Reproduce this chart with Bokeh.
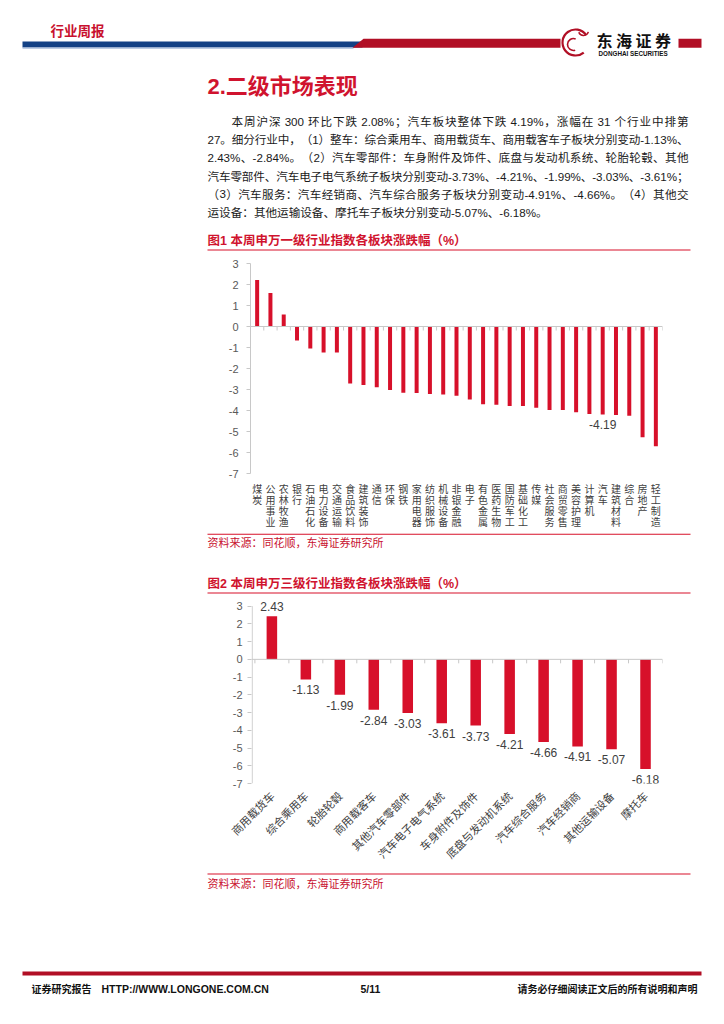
import math
from bokeh.plotting import figure
from bokeh.layouts import column
from bokeh.models import Range1d, FixedTicker, Span
from bokeh.core.properties import value
from bokeh.embed import file_html
from bokeh.resources import INLINE

# ---------------- data ----------------
industries_l1 = ["煤炭", "公用事业", "农林牧渔", "银行", "石油石化", "电力设备", "交通运输",
                 "食品饮料", "建筑装饰", "通信", "环保", "钢铁", "家用电器", "纺织服饰",
                 "机械设备", "非银金融", "电子", "有色金属", "医药生物", "国防军工", "基础化工",
                 "传媒", "社会服务", "商贸零售", "美容护理", "计算机", "汽车", "建筑材料",
                 "综合", "房地产", "轻工制造"]
changes_l1 = [2.21, 1.59, 0.57, -0.67, -1.05, -1.24, -1.24, -2.71, -2.78, -2.89, -3.02,
              -3.16, -3.17, -3.21, -3.24, -3.30, -3.48, -3.70, -3.73, -3.78, -3.78, -3.87,
              -3.98, -3.98, -4.08, -4.17, -4.19, -4.21, -4.25, -5.27, -5.70]
highlight_l1 = "汽车"

industries_l3 = ["商用载货车", "综合乘用车", "轮胎轮毂", "商用载客车", "其他汽车零部件",
                 "汽车电子电气系统", "车身附件及饰件", "底盘与发动机系统", "汽车综合服务",
                 "汽车经销商", "其他运输设备", "摩托车"]
changes_l3 = [2.43, -1.13, -1.99, -2.84, -3.03, -3.61, -3.73, -4.21, -4.66, -4.91, -5.07, -6.18]

y_ticks = [3, 2, 1, 0, -1, -2, -3, -4, -5, -6, -7]

para_lines = [
    "本周沪深 300 环比下跌 2.08%；汽车板块整体下跌 4.19%，涨幅在 31 个行业中排第",
    "27。细分行业中，（1）整车：综合乘用车、商用载货车、商用载客车子板块分别变动-1.13%、",
    "2.43%、-2.84%。（2）汽车零部件：车身附件及饰件、底盘与发动机系统、轮胎轮毂、其他",
    "汽车零部件、汽车电子电气系统子板块分别变动-3.73%、-4.21%、-1.99%、-3.03%、-3.61%；",
    "（3）汽车服务：汽车经销商、汽车综合服务子板块分别变动-4.91%、-4.66%。（4）其他交",
    "运设备：其他运输设备、摩托车子板块分别变动-5.07%、-6.18%。",
]

# ---------------- style ----------------
RED = "#D7102A"
DARK_RED = "#B10F25"
TITLE_RED = "#D0132E"
BLUE = "#134185"
AXIS_GRAY = "#C8C8C8"
TICK_TXT = "#595959"
CJK = "Noto Sans CJK SC"
MIX = "Liberation Sans, Noto Sans CJK SC"
LAT = "Liberation Sans"
W = 708
NBSP = "\u00a0"


def deco(h, y0):
    p = figure(width=W, height=h, x_range=Range1d(0, W), y_range=Range1d(y0 + h, y0),
               output_backend="svg", toolbar_location=None, min_border=0,
               x_axis_type=None, y_axis_type=None, outline_line_color=None)
    p.frame_align = False
    p.background_fill_color = "white"
    p.border_fill_color = "white"
    return p


def txt(p, x, y, s, size, color, bold=False, font=MIX, align="left", baseline="middle"):
    p.text(x=[x], y=[y], text=[s], text_font=value(font), text_font_size=f"{size}px",
           text_color=color, text_font_style="bold" if bold else "normal",
           text_align=align, text_baseline=baseline)


def hline(p, x0, x1, y, color, width=1.0):
    p.segment(x0=[x0], y0=[y], x1=[x1], y1=[y], line_color=color, line_width=width)


ASCII_W = {"0": 0.556, "1": 0.556, "2": 0.556, "3": 0.556, "4": 0.556, "5": 0.556,
           "6": 0.556, "7": 0.556, "8": 0.556, "9": 0.556, ".": 0.278, "%": 0.889,
           "-": 0.333, " ": 0.278}


def tokens_of(line):
    toks, cur = [], ""
    for ch in line:
        if ord(ch) < 128:
            cur += ch
        else:
            if cur:
                toks.append(cur)
                cur = ""
            toks.append(ch)
    if cur:
        toks.append(cur)
    return toks


def tok_w(t, size):
    if ord(t[0]) < 128:
        return sum(ASCII_W.get(c, 0.556) for c in t) * size
    return size


def justified(p, x0, x1, y, line, size, color):
    toks = tokens_of(line)
    widths = [tok_w(t, size) for t in toks]
    gap = (x1 - x0 - sum(widths)) / (len(toks) - 1)
    xs, x = [], x0
    for w_ in widths:
        xs.append(x)
        x += w_ + gap
    p.text(x=xs, y=[y] * len(toks), text=[t.replace(" ", NBSP) for t in toks],
           text_font=value(MIX), text_font_size=f"{size}px", text_color=color,
           text_align="left", text_baseline="middle")


# ---------------- top block (page y 0..258) ----------------
A = deco(258, 0)
txt(A, 50, 29, "行业周报", 13.5, "#C8102E", bold=True, font=CJK)
A.quad(left=[22], right=[362], top=[41], bottom=[47], fill_color=BLUE, line_color=None)
hline(A, 22, 353, 47.6, "#A9BCDB", 1.2)
A.patch(x=[352, 363, 560, 560], y=[47.3, 38.3, 38.3, 47.3], fill_color=DARK_RED, line_color=None)
A.quad(left=[678], right=[701], top=[38.3], bottom=[47.3], fill_color=DARK_RED, line_color=None)
# logo (dragon mark approximated by arcs)
A.arc(x=[575], y=[42], radius=13, start_angle=0.6, end_angle=5.4, line_color=DARK_RED, line_width=2.2)
A.arc(x=[573], y=[44], radius=6, start_angle=1.2, end_angle=5.0, line_color=DARK_RED, line_width=1.6)
A.arc(x=[583], y=[30], radius=5, start_angle=3.5, end_angle=6.0, line_color=DARK_RED, line_width=1.6)
for i, ch in enumerate("东海证券"):
    txt(A, 596 + 19.5 * i, 39, ch, 16, "#111111", bold=True, font=CJK)
txt(A, 598, 52.5, "DONGHAI SECURITIES", 6.3, "#111111", bold=True, font=LAT)

txt(A, 207, 86, "2.二级市场表现", 22, TITLE_RED, bold=True)
para_y0, para_dy = 121, 18.2
PARA_SIZE = 11.6
for i, line in enumerate(para_lines):
    y = para_y0 + i * para_dy
    if i < len(para_lines) - 1:
        justified(A, 231 if i == 0 else 207, 688, y, line, PARA_SIZE, "#1A1A1A")
    else:
        txt(A, 207, y, line, PARA_SIZE, "#1A1A1A")
txt(A, 207, 240, "图1  本周申万一级行业指数各板块涨跌幅（%）", 12.5, TITLE_RED, bold=True)
hline(A, 207, 690, 249.5, RED, 1.2)


# ---------------- chart helper ----------------
def chart(h, top_b, bottom_b, left_b, frame_w, x_start, n, y_top=3.0, own_axis_line=False):
    p = figure(width=W, height=h, x_range=Range1d(x_start, n - 0.5),
               y_range=Range1d(-7, y_top),
               output_backend="svg", toolbar_location=None,
               min_border_left=left_b, min_border_right=W - left_b - frame_w,
               min_border_top=top_b, min_border_bottom=bottom_b, outline_line_color=None)
    p.frame_align = False
    p.background_fill_color = "white"
    p.border_fill_color = "white"
    p.xgrid.visible = False
    p.ygrid.visible = False
    ya = p.yaxis[0]
    ya.ticker = FixedTicker(ticks=y_ticks)
    ya.major_label_overrides = {t: str(t) for t in y_ticks}
    ya.axis_line_color = None if own_axis_line else AXIS_GRAY
    ya.major_tick_line_color = AXIS_GRAY
    ya.major_tick_out = 4
    ya.major_tick_in = 0
    ya.minor_tick_line_color = None
    ya.major_label_text_font = LAT
    ya.major_label_text_font_size = "11px"
    ya.major_label_text_color = TICK_TXT
    xa = p.xaxis[0]
    xa.ticker = FixedTicker(ticks=list(range(n)))
    xa.axis_line_color = None
    xa.major_tick_line_color = None
    xa.minor_tick_line_color = None
    xa.major_label_text_font = CJK
    xa.major_label_text_color = "#404040"
    p.add_layout(Span(location=0, dimension="width", line_color=AXIS_GRAY, line_width=1))
    if own_axis_line:
        xl = x_start + 0.02
        p.segment(x0=[xl], y0=[min(y_ticks)], x1=[xl], y1=[max(y_ticks)],
                  line_color=AXIS_GRAY, line_width=1)
    return p


# ---------------- chart 1 (page y 258..533) ----------------
n1 = len(industries_l1)
B = chart(275, 5, 60, 250, 412, -0.5, n1)
B.xaxis[0].major_label_overrides = {i: "\n".join(name) for i, name in enumerate(industries_l1)}
B.xaxis[0].major_label_text_font_size = "10px"
B.xaxis[0].major_label_text_line_height = 0.74
B.xaxis[0].major_label_standoff = 1
B.yaxis[0].major_label_standoff = 8
tick1 = 4 * 10 / 210
bounds1 = [i - 0.5 for i in range(n1 + 1)]
B.segment(x0=bounds1, y0=[0] * len(bounds1), x1=bounds1, y1=[-tick1] * len(bounds1),
          line_color=AXIS_GRAY, line_width=1)
B.vbar(x=list(range(n1)), top=changes_l1, bottom=0, width=0.3, fill_color=RED, line_color=None)
hi = industries_l1.index(highlight_l1)
B.text(x=[hi], y=[changes_l1[hi]], text=[f"{changes_l1[hi]:.2f}"], text_font=value(LAT),
       text_font_size="12px", text_color="#404040", text_align="center",
       text_baseline="top", y_offset=6)

# ---------------- middle block (page y 533..594) ----------------
C = deco(61, 533)
hline(C, 207, 690, 533.6, RED, 1.2)
txt(C, 207, 541.5, "资料来源：同花顺，东海证券研究所", 11, "#C8102E", font=CJK)
txt(C, 207, 583, "图2  本周申万三级行业指数各板块涨跌幅（%）", 12.5, TITLE_RED, bold=True)
hline(C, 207, 690, 592.5, RED, 1.2)

# ---------------- chart 2 (page y 594..870) ----------------
n3 = len(industries_l3)
D = chart(276, 0, 86, 251, 411, -0.6, n3, y_top=3.656, own_axis_line=True)
D.xaxis[0].major_label_overrides = {i: name for i, name in enumerate(industries_l3)}
D.xaxis[0].major_label_text_font_size = "11px"
D.xaxis[0].major_label_orientation = math.pi / 4
D.xaxis[0].major_label_standoff = 4
D.yaxis[0].major_label_standoff = 5
tick3 = 4 * 10 / 178
bounds3 = [i - 0.5 for i in range(n3 + 1)]
D.segment(x0=bounds3, y0=[0] * len(bounds3), x1=bounds3, y1=[-tick3] * len(bounds3),
          line_color=AXIS_GRAY, line_width=1)
D.vbar(x=list(range(n3)), top=changes_l3, bottom=0, width=0.31, fill_color=RED, line_color=None)
pos_i = [i for i, v in enumerate(changes_l3) if v >= 0]
neg_i = [i for i, v in enumerate(changes_l3) if v < 0]
D.text(x=pos_i, y=[changes_l3[i] for i in pos_i], text=[f"{changes_l3[i]:.2f}" for i in pos_i],
       text_font=value(LAT), text_font_size="12px", text_color="#404040",
       text_align="center", text_baseline="bottom", y_offset=-5)
D.text(x=neg_i, y=[changes_l3[i] for i in neg_i], text=[f"{changes_l3[i]:.2f}" for i in neg_i],
       text_font=value(LAT), text_font_size="12px", text_color="#404040",
       text_align="center", text_baseline="top", y_offset=6)

# ---------------- bottom block (page y 870..1016) ----------------
E = deco(146, 870)
hline(E, 207, 690, 873.5, RED, 1.2)
txt(E, 207, 882, "资料来源：同花顺，东海证券研究所", 11, "#C8102E", font=CJK)
E.quad(left=[22], right=[701], top=[971], bottom=[975], fill_color=DARK_RED, line_color=None)
txt(E, 31, 988, "证券研究报告", 10, "#111111", bold=True, font=CJK)
txt(E, 101, 988, "HTTP://WWW.LONGONE.COM.CN", 10.5, "#111111", bold=True, font=LAT)
txt(E, 360, 988, "5/11", 10.5, "#111111", bold=True, font=LAT)
txt(E, 697, 988, "请务必仔细阅读正文后的所有说明和声明", 10, "#111111", bold=True, font=CJK, align="right")

layout = column(A, B, C, D, E, spacing=0)
open("out.html", "w").write(file_html(layout, INLINE))
